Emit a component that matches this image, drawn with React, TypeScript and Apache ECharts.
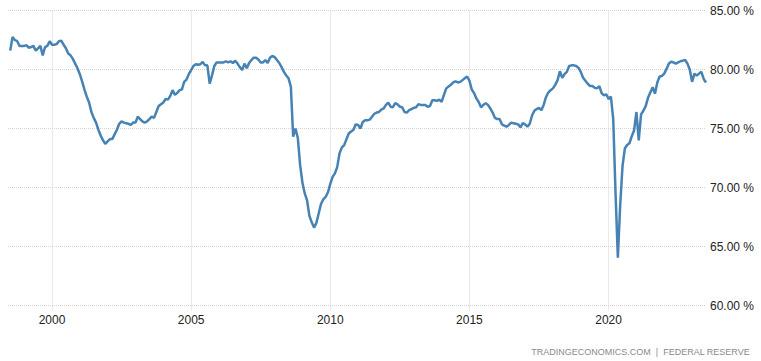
import React, { useEffect, useRef } from "react";
import * as echarts from "echarts";

// Monthly capacity utilization (%), starting July 1998
const startYear = 1998;
const startMonth = 7;
const utilization = [
  81.6, 82.75, 82.5, 82.4, 82.0, 82.0, 82.0, 82.05, 81.85, 81.9, 82.0, 81.6,
  81.8, 82.0, 81.2, 81.9, 82.0, 82.4, 82.1, 82.1, 82.15, 82.4, 82.45, 82.1,
  81.8, 81.35, 81.2, 80.9, 80.5, 80.1, 79.6, 79.0, 78.3, 77.7, 77.2, 76.4,
  75.9, 75.5, 74.9, 74.4, 74.0, 73.7, 73.9, 74.1, 74.1, 74.5, 74.9, 75.4,
  75.6, 75.5, 75.45, 75.4, 75.3, 75.5, 75.5, 76.0, 75.8, 75.6, 75.5, 75.6,
  75.8, 76.0, 75.9, 76.4, 76.9, 77.05, 77.2, 77.5, 77.45, 77.75, 78.25, 77.85,
  78.0, 78.25, 78.3, 78.95, 79.15, 79.6, 79.95, 80.3, 80.45, 80.4, 80.45, 80.65,
  80.35, 80.35, 78.8, 79.5, 80.3, 80.6, 80.6, 80.6, 80.6, 80.7, 80.6, 80.7,
  80.55, 80.75, 80.5, 80.2, 79.95, 80.5, 80.1, 80.55, 80.8, 81.0, 81.0, 80.85,
  80.6, 80.6, 80.8, 80.55, 81.0, 81.15, 81.05, 80.8, 80.55, 80.2, 79.8, 79.5,
  79.25, 78.55, 74.3, 75.0, 74.2, 71.9, 70.4, 69.5, 68.9, 67.6, 67.05, 66.6,
  67.0, 67.8, 68.6, 69.0, 69.2, 69.6, 70.3, 70.9, 71.2, 71.75, 72.9, 73.4,
  73.6, 74.1, 74.6, 74.75, 74.9, 75.35, 75.3, 75.0, 75.55, 75.7, 75.7, 75.75,
  76.0, 76.25, 76.35, 76.4, 76.6, 76.7, 77.0, 77.2, 76.85, 76.8, 77.15, 77.05,
  76.85, 76.8, 76.4, 76.35, 76.55, 76.65, 76.75, 76.8, 77.05, 77.0, 77.0, 77.0,
  76.85, 76.9, 77.4, 77.4, 77.35, 77.45, 77.25, 77.85, 78.4, 78.55, 78.7, 78.9,
  79.0, 78.9, 78.95, 79.1, 79.25, 79.4, 79.05, 78.3, 78.0, 77.55, 77.25, 76.8,
  77.0, 77.15, 77.0, 76.7, 76.35, 75.9, 75.8, 75.8, 75.35, 75.25, 75.15, 75.3,
  75.5, 75.45, 75.4, 75.35, 75.1, 75.45, 75.35, 75.15, 75.4, 76.1, 76.5, 76.65,
  76.75, 76.55, 77.0, 77.65, 78.05, 78.25, 78.4, 78.7, 79.1, 79.85, 79.3, 79.6,
  79.8, 80.3, 80.35, 80.35, 80.3, 80.15, 79.8, 79.3, 79.05, 78.8, 78.6, 78.6,
  78.45, 78.4, 78.6, 78.0, 77.8, 77.9, 77.5, 77.7, 75.8, 69.5, 64.05, 68.5,
  71.8, 73.3, 73.6, 73.75, 74.35, 74.85, 76.4, 74.0, 76.2, 76.5, 76.9, 77.6,
  78.05, 78.5, 77.95, 78.9, 79.4, 79.45, 79.65, 80.05, 80.5, 80.65, 80.6, 80.5,
  80.6, 80.7, 80.75, 80.8, 80.5, 80.0, 78.95, 79.65, 79.5, 79.65, 79.8, 79.2,
  78.9,
];

const xTickYears = [2000, 2005, 2010, 2015, 2020];
const yMin = 60;
const yMax = 85;
const yStep = 5;
const footer = "TRADINGECONOMICS.COM  |  FEDERAL RESERVE";

const GRID_COLOR = "#d4d4d4";

export default function App() {
  const ref = useRef<HTMLDivElement>(null);

  useEffect(() => {
    if (!ref.current) return;
    const chart = echarts.init(ref.current, undefined, { renderer: "svg" });
    const seriesData = utilization.map((v, i) => [
      startYear + (startMonth - 1) / 12 + i / 12,
      v,
    ]);
    chart.setOption({
      animation: false,
      backgroundColor: "#ffffff",
      grid: { left: 8, right: 55, top: 10.5, bottom: 55.5, containLabel: false },
      xAxis: {
        type: "value",
        min: 1998.42,
        max: 2023.5,
        axisLine: { show: false },
        axisTick: {
          show: true,
          customValues: xTickYears,
          length: 5,
          lineStyle: { color: GRID_COLOR, type: "dotted" },
        },
        axisLabel: {
          customValues: xTickYears,
          formatter: (v: number) => String(Math.round(v)),
          color: "#222",
          fontSize: 12,
          fontFamily: "Liberation Sans, Arial, sans-serif",
          margin: 8,
        },
        splitLine: { show: false },
      },
      yAxis: {
        type: "value",
        position: "right",
        min: yMin,
        max: yMax,
        interval: yStep,
        axisLine: { show: false },
        axisTick: { show: false },
        axisLabel: {
          formatter: (v: number) => v.toFixed(2) + " %",
          color: "#222",
          fontSize: 12,
          fontFamily: "Liberation Sans, Arial, sans-serif",
          margin: 4,
        },
        splitLine: { show: true, lineStyle: { color: GRID_COLOR, type: "dotted", width: 1 } },
      },
      series: [
        {
          type: "line",
          data: seriesData,
          showSymbol: false,
          symbol: "none",
          lineStyle: { color: "#4682b4", width: 2.5 },
          itemStyle: { color: "#4682b4" },
          markLine: {
            silent: true,
            symbol: "none",
            label: { show: false },
            lineStyle: { color: GRID_COLOR, type: "dotted", width: 1 },
            data: xTickYears.map((y) => ({ xAxis: y })),
            z: 1,
          },
          z: 3,
        },
      ],
      graphic: [
        {
          type: "text",
          right: 11,
          top: 347,
          style: {
            text: footer,
            fill: "#8a8a8a",
            fontSize: 9,
            fontFamily: "Liberation Sans, Arial, sans-serif",
          },
        },
      ],
    });
    return () => chart.dispose();
  }, []);

  return (
    <div
      ref={ref}
      style={{ position: "fixed", left: 0, top: 0, width: 761, height: 361 }}
    />
  );
}
